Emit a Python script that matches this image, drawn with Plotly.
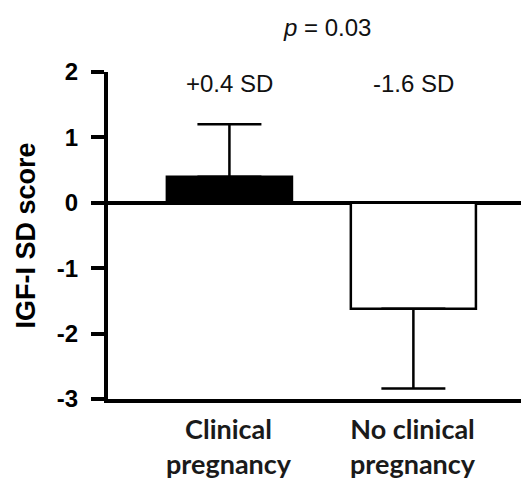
import plotly.graph_objects as go

# Data
categories = ["Clinical<br>pregnancy", "No clinical<br>pregnancy"]
x_pos = [0, 1]
means = [0.4, -1.62]
err_plus = [0.8, 0.0]
err_minus = [0.0, 1.22]
bar_fill = ["black", "white"]
bar_text = ["+0.4 SD", "-1.6 SD"]
p_text = "<i>p</i> = 0.03"
y_ticks = [-3, -2, -1, 0, 1, 2]
y_ticktext = ["-3", "-2", "-1", "0", "1", "2"]

fig = go.Figure()
for i in range(2):
    fig.add_trace(go.Bar(
        x=[x_pos[i]], y=[means[i]], width=0.68,
        marker=dict(color=bar_fill[i], line=dict(color="black", width=2.5)),
        error_y=dict(type="data", symmetric=False,
                     array=[err_plus[i]], arrayminus=[err_minus[i]],
                     color="black", thickness=2.5, width=32),
        showlegend=False,
    ))

ann = []
for i in range(2):
    ann.append(dict(x=x_pos[i], y=1.82, xref="x", yref="y", text=bar_text[i],
                    showarrow=False, xanchor="center", yanchor="middle",
                    font=dict(family="Liberation Sans, Arial", size=24, color="#111")))
    ann.append(dict(x=x_pos[i], y=0, xref="x", yref="paper", text=categories[i],
                    showarrow=False, xanchor="center", yanchor="middle", yshift=-47,
                    font=dict(family="Lato", size=27, color="#1a1a1a", weight="bold")))
ann.append(dict(x=0.53, y=1, xref="x", yref="paper", text=p_text, showarrow=False,
                xanchor="center", yanchor="middle", yshift=45,
                font=dict(family="Liberation Sans, Arial", size=24, color="#111")))
ann.append(dict(x=0, y=0.5, xref="paper", yref="paper", text="IGF-I SD score",
                showarrow=False, textangle=-90, xanchor="center", yanchor="middle",
                xshift=-83,
                font=dict(family="Liberation Sans, Arial", size=27, color="black", weight="bold")))

fig.update_layout(
    width=529, height=482,
    margin=dict(l=100, r=0, t=64, b=91),
    paper_bgcolor="white", plot_bgcolor="white",
    annotations=ann,
    xaxis=dict(range=[-0.66, 1.672], showticklabels=False, ticks="",
               showline=True, linecolor="black", linewidth=4,
               showgrid=False, zeroline=False, fixedrange=True),
    yaxis=dict(range=[-3, 2], tickvals=y_ticks, ticktext=y_ticktext,
               ticks="outside", ticklen=13,
               tickwidth=4, tickcolor="black", showline=True, linecolor="black",
               linewidth=4, showgrid=False, zeroline=True, zerolinecolor="black",
               zerolinewidth=4, ticklabelstandoff=8,
               tickfont=dict(family="Liberation Sans, Arial", size=24, color="black", weight="bold")),
)

fig.write_html("out.html")
